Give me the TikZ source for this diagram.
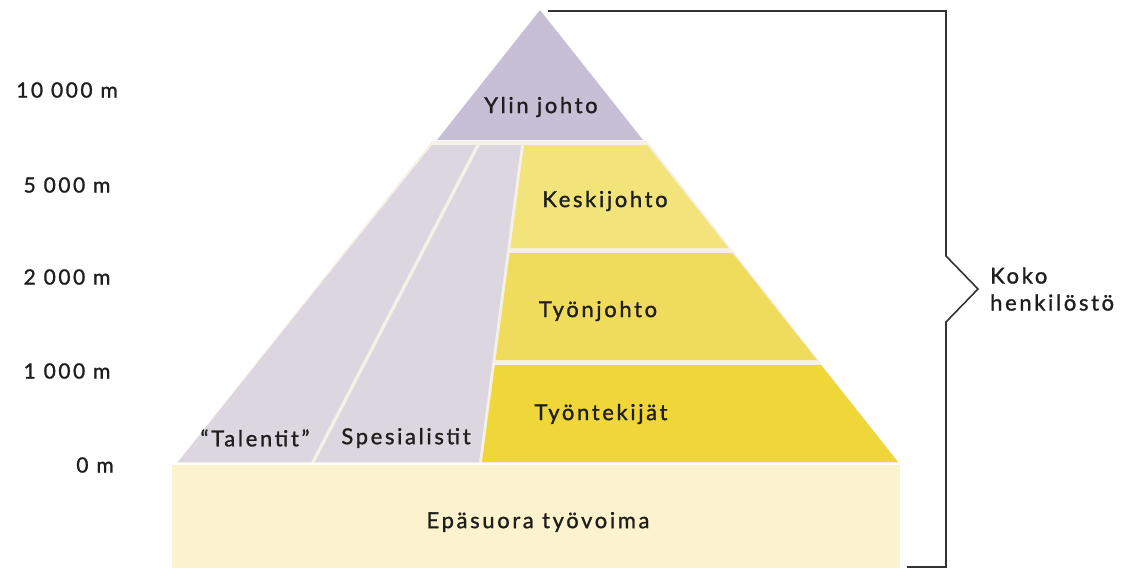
\documentclass[tikz,border=0pt]{standalone}
\usepackage{fontspec}
\setmainfont{Lato}
\newfontfamily\lblfont[LetterSpace=12,FakeBold=1.2]{Lato}
\definecolor{lilactop}{HTML}{C6BFD6}
\definecolor{lilac}{HTML}{DCD6E0}
\definecolor{gapc}{HTML}{F6F1E6}
\definecolor{yel1}{HTML}{F2E37A}
\definecolor{yel2}{HTML}{F0DC5C}
\definecolor{yel3}{HTML}{EFD73A}
\definecolor{basec}{HTML}{FCF2CE}
\definecolor{txt}{HTML}{1E1E1E}
\definecolor{brk}{HTML}{333333}
\begin{document}
\begin{tikzpicture}[x=1pt,y=-1pt,
  lbl/.style={text=txt,font=\fontsize{22}{27}\selectfont\lblfont,inner sep=0pt},
  axis/.style={text=txt,font=\fontsize{21}{23}\selectfont\lblfont,inner sep=0pt}]
\useasboundingbox (0,0) rectangle (1122,570);
% gap background
\fill[gapc] (432,141) -- (647,141) -- (899,463) -- (177,463) -- cycle;
% top triangle
\fill[lilactop] (540,10) -- (643,140) -- (437,140) -- cycle;
% lilac columns
\fill[lilac] (432,145) -- (476,145) -- (311,462) -- (178,462) -- cycle;
\fill[lilac] (480,145) -- (521,145) -- (479,462) -- (315,462) -- cycle;
% yellow tiers
\fill[yel1] (524,145) -- (647,145) -- (728.5,248) -- (510.4,248) -- cycle;
\fill[yel2] (509.7,253) -- (732.5,253) -- (817,360) -- (495.5,360) -- cycle;
\fill[yel3] (494.9,365) -- (821,365) -- (898,462) -- (482,462) -- cycle;
% base
\fill[basec] (172,465) rectangle (900,568);
% bracket
\draw[brk,line width=1.6pt,line join=miter] (548,11) -- (946,11) -- (946,256) -- (978,289) -- (946,322) -- (946,567) -- (907,567);
% texts
\node[lbl] (ylin) at (541,107) {Ylin johto};
\node[lbl] (kesk) at (605,201) {Keskijohto};
\node[lbl] (tyon) at (598,311) {Työnjohto};
\node[lbl] (tyot) at (601,414) {Työntekijät};
\node[lbl] (tal) at (255,438) {“Talentit”};
\node[lbl] (spes) at (406,438) {Spesialistit};
\node[lbl] (epa) at (538,522) {Epäsuora työvoima};
\node[lbl,anchor=west,align=left] (koko) at (990,289) {Koko\\henkilöstö};
\node[axis] (a10) at (67,90) {10 000 m};
\node[axis] (a5) at (67,185) {5 000 m};
\node[axis] (a2) at (67,277) {2 000 m};
\node[axis] (a1) at (67,371) {1 000 m};
\node[axis] (a0) at (95,465) {0 m};
\end{tikzpicture}
\end{document}
